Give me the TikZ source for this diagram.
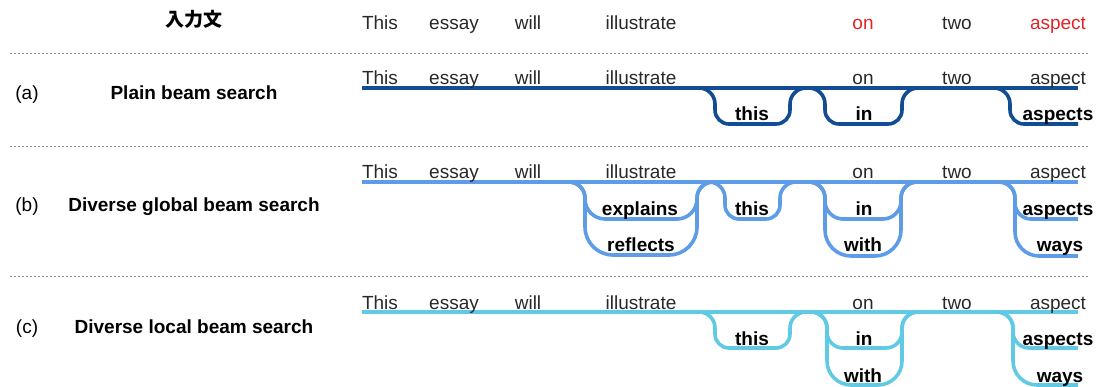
\documentclass[tikz,border=0pt]{standalone}
\usepackage{fontspec}
\setmainfont{Liberation Sans}
\newfontfamily\cjk{Noto Sans CJK JP}
\definecolor{colA}{RGB}{18,76,146}
\definecolor{colB}{RGB}{94,156,232}
\definecolor{colC}{RGB}{96,202,228}
\definecolor{redw}{RGB}{226,36,40}
\definecolor{sepgray}{RGB}{140,140,140}
\definecolor{txt}{RGB}{40,40,40}
% #1 colour, #2 left x, #3 right x, #4 top y, #5 bottom y, #6 bottom radius
\newcommand{\loopbranch}[6]{%
  \draw[beam,#1] ({#2-16},#4) .. controls ({#2-7.2},#4) and (#2,{#4+7.2}) .. (#2,{#4+16})
    -- (#2,{#5-#6}) .. controls (#2,{#5-0.448*#6}) and ({#2+0.448*#6},#5) .. ({#2+#6},#5)
    -- ({#3-#6},#5) .. controls ({#3-0.448*#6},#5) and (#3,{#5-0.448*#6}) .. (#3,{#5-#6})
    -- (#3,{#4+16}) .. controls (#3,{#4+7.2}) and ({#3+7.2},#4) .. ({#3+16},#4);}
% #1 colour, #2 left x, #3 top y, #4 bottom y, #5 bottom radius
\newcommand{\tailbranch}[5]{%
  \draw[beam,#1] ({#2-16},#3) .. controls ({#2-7.2},#3) and (#2,{#3+7.2}) .. (#2,{#3+16})
    -- (#2,{#4-#5}) .. controls (#2,{#4-0.448*#5}) and ({#2+0.448*#5},#4) .. ({#2+#5},#4)
    -- (1078,#4);}
\begin{document}
\begin{tikzpicture}[x=1pt,y=-1pt,
  word/.style={anchor=base,inner sep=0pt,font=\fontsize{19}{22}\selectfont,text=txt},
  bword/.style={anchor=base,inner sep=0pt,font=\fontsize{19}{22}\selectfont\bfseries,text=black},
  lab/.style={anchor=base,inner sep=0pt,font=\fontsize{19}{22}\selectfont,text=black},
  blab/.style={anchor=base,inner sep=0pt,font=\fontsize{19}{22}\selectfont\bfseries,text=black},
  sep/.style={draw=sepgray,line width=0.8pt,dash pattern=on 2pt off 2pt},
  beam/.style={line width=3.6pt}]
\useasboundingbox (0,0) rectangle (1097,387);

% separators
\coordinate (s1l) at (10,53);  \coordinate (s1r) at (1090,53);
\coordinate (s2l) at (10,146); \coordinate (s2r) at (1090,146);
\coordinate (s3l) at (10,276); \coordinate (s3r) at (1090,276);
\draw[sep] (s1l) -- (s1r);
\draw[sep] (s2l) -- (s2r);
\draw[sep] (s3l) -- (s3r);

% header
\node[anchor=base,inner sep=0pt,font=\cjk\bfseries\fontsize{19}{22}\selectfont] (hdr) at (194,27) {入力文};
\node[word] (h1) at (380,30) {This};
\node[word] (h2) at (454,30) {essay};
\node[word] (h3) at (528,30) {will};
\node[word] (h4) at (641,30) {illustrate};
\node[word,text=redw] (h5) at (863,30) {on};
\node[word] (h6) at (957,30) {two};
\node[word,text=redw] (h7) at (1058,30) {aspect};

% ---------- row (a)
\draw[beam,colA] (362,88) -- (1078,88);
\loopbranch{colA}{715}{790}{88}{124}{14}
\loopbranch{colA}{825}{902}{88}{124}{14}
\tailbranch{colA}{1010}{88}{124}{14}
\node[lab] (la) at (27,100) {(a)};
\node[blab] (na) at (194,100) {Plain beam search};
\node[word] (a1) at (380,85) {This};
\node[word] (a2) at (454,85) {essay};
\node[word] (a3) at (528,85) {will};
\node[word] (a4) at (641,85) {illustrate};
\node[word] (a5) at (863,85) {on};
\node[word] (a6) at (957,85) {two};
\node[word] (a7) at (1058,85) {aspect};
\node[bword] (a8) at (752,121) {this};
\node[bword] (a9) at (864,121) {in};
\node[bword] (a10) at (1058,121) {aspects};

% ---------- row (b)
\draw[beam,colB] (362,182) -- (1078,182);
\loopbranch{colB}{585}{697}{182}{219}{20}
\loopbranch{colB}{585}{697}{182}{255}{28}
\loopbranch{colB}{725}{780}{182}{219}{14}
\loopbranch{colB}{825}{901}{182}{219}{18}
\loopbranch{colB}{825}{901}{182}{256}{26}
\tailbranch{colB}{1015}{182}{219}{16}
\tailbranch{colB}{1015}{182}{256}{24}
\node[lab] (lb) at (27,212) {(b)};
\node[blab] (nb) at (194,212) {Diverse global beam search};
\node[word] (b1) at (380,179) {This};
\node[word] (b2) at (454,179) {essay};
\node[word] (b3) at (528,179) {will};
\node[word] (b4) at (641,179) {illustrate};
\node[word] (b5) at (863,179) {on};
\node[word] (b6) at (957,179) {two};
\node[word] (b7) at (1058,179) {aspect};
\node[bword] (b8) at (640,216) {explains};
\node[bword] (b9) at (641,252) {reflects};
\node[bword] (b10) at (752,216) {this};
\node[bword] (b11) at (864,216) {in};
\node[bword] (b12) at (863,252) {with};
\node[bword] (b13) at (1058,216) {aspects};
\node[bword] (b14) at (1060,252) {ways};

% ---------- row (c)
\draw[beam,colC] (362,312) -- (1078,312);
\loopbranch{colC}{715}{790}{312}{348}{14}
\loopbranch{colC}{827}{902}{312}{348}{16}
\loopbranch{colC}{827}{902}{312}{385}{24}
\tailbranch{colC}{1013}{312}{348}{16}
\tailbranch{colC}{1013}{312}{385}{24}
\node[lab] (lc) at (27,333) {(c)};
\node[blab] (nc) at (194,333) {Diverse local beam search};
\node[word] (c1) at (380,309) {This};
\node[word] (c2) at (454,309) {essay};
\node[word] (c3) at (528,309) {will};
\node[word] (c4) at (641,309) {illustrate};
\node[word] (c5) at (863,309) {on};
\node[word] (c6) at (957,309) {two};
\node[word] (c7) at (1058,309) {aspect};
\node[bword] (c8) at (752,345) {this};
\node[bword] (c9) at (864,345) {in};
\node[bword] (c10) at (863,382) {with};
\node[bword] (c11) at (1058,345) {aspects};
\node[bword] (c12) at (1060,382) {ways};
\end{tikzpicture}
\end{document}
